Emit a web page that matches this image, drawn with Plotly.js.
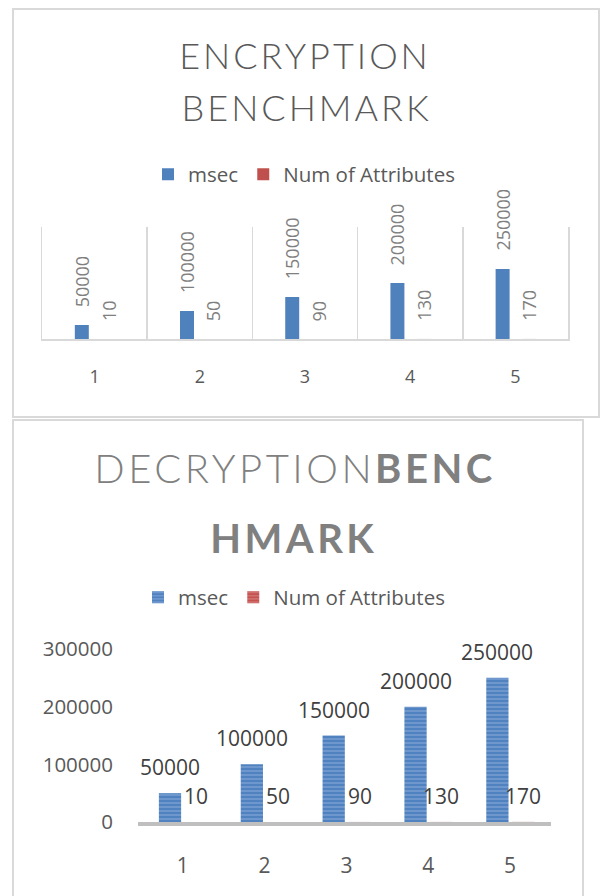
<!DOCTYPE html>
<html><head><meta charset="utf-8">
<script src="https://cdn.plot.ly/plotly-3.0.1.min.js"></script>
<style>
html,body{margin:0;padding:0;background:#fff;width:601px;height:896px;overflow:hidden;position:relative;}
.box{position:absolute;border:2px solid #d9d9d9;box-sizing:border-box;}
#boxA{left:12px;top:8px;width:588px;height:410px;}
#boxB{left:12px;top:419px;width:572px;height:520px;}
#chartA{position:absolute;left:0;top:0;width:601px;height:418px;}
#chartB{position:absolute;left:0;top:418px;width:601px;height:478px;}
#chartA .gtitle, #chartA .annotation[data-index="0"] text{letter-spacing:3px;}
#chartB .gtitle, #chartB .annotation[data-index="0"] text{letter-spacing:3.5px;}
</style></head>
<body>
<div class="box" id="boxA"></div>
<div class="box" id="boxB"></div>
<div id="chartA"></div>
<div id="chartB"></div>
<script>
// ---- data ----
var categories = ['1', '2', '3', '4', '5'];
var seriesNames = ['msec', 'Num of Attributes'];
var encMsec = [50000, 100000, 150000, 200000, 250000];
var encNum = [10, 50, 90, 130, 170];
var decMsec = [50000, 100000, 150000, 200000, 250000];
var decNum = [10, 50, 90, 130, 170];
var decYTicks = [0, 100000, 200000, 300000];
var encTitle = ['ENCRYPTION', 'BENCHMARK'];
var decTitle = ['DECRYPTION<b>BENC</b>', '<b>HMARK</b>'];

var FONT = 'Open Sans, Liberation Sans, sans-serif';
var TFONT = 'Lato, Open Sans, sans-serif';

// ---- chart A: encryption ----
var wA = 0.133, offA = [-0.188, 0.0665];
var mA = {l: 42, r: 33, t: 227, b: 79};
var hA = 418, wPxA = 601;
var plotHA = hA - mA.t - mA.b, plotWA = wPxA - mA.l - mA.r;

var tracesA = [
  {type: 'bar', x: categories, y: encMsec, name: seriesNames[0], width: wA, offset: offA[0],
   marker: {color: '#4f81bd'}, hoverinfo: 'skip'},
  {type: 'bar', x: categories, y: encNum, name: seriesNames[1], width: wA, offset: offA[1],
   marker: {color: '#c0504d'}, hoverinfo: 'skip'}
];
var annA = [{
  xref: 'paper', yref: 'paper', x: (306.5 - mA.l) / plotWA, y: (hA - mA.b - 106.5) / plotHA,
  xanchor: 'center', yanchor: 'middle', showarrow: false, text: encTitle[1],
  font: {family: TFONT, size: 36, color: '#595959', weight: 300}
}];
[encMsec, encNum].forEach(function (arr, s) {
  arr.forEach(function (v, i) {
    annA.push({x: i + offA[s] + wA / 2, y: v, xref: 'x', yref: 'y', text: String(v),
      textangle: -90, showarrow: false, xanchor: 'center', yanchor: 'bottom', yshift: 16,
      font: {family: FONT, size: 18, color: '#7f7f7f'}});
  });
});
var layoutA = {
  width: wPxA, height: hA, margin: mA,
  paper_bgcolor: 'rgba(0,0,0,0)', plot_bgcolor: 'rgba(0,0,0,0)',
  title: {text: encTitle[0], x: 305 / wPxA, xanchor: 'center', xref: 'container',
    y: 1 - 56 / hA, yanchor: 'middle', yref: 'container',
    font: {family: TFONT, size: 36, color: '#595959', weight: 300}},
  barmode: 'group',
  showlegend: true,
  legend: {orientation: 'h', xref: 'container', yref: 'container', x: 148 / wPxA, xanchor: 'left',
    y: 1 - 174.5 / hA, yanchor: 'middle', font: {family: FONT, size: 20.5, color: '#595959'},
    bgcolor: 'rgba(0,0,0,0)', traceorder: 'normal'},
  xaxis: {type: 'category', tickson: 'boundaries', showgrid: true, gridcolor: '#d9d9d9', gridwidth: 1.5,
    showline: true, linecolor: '#d9d9d9', linewidth: 2, ticks: '', ticklabelstandoff: 20,
    tickfont: {family: FONT, size: 18, color: '#595959'}, fixedrange: true},
  yaxis: {range: [0, 400000], showticklabels: false, showgrid: false, zeroline: false,
    showline: true, mirror: true, linecolor: '#d9d9d9', linewidth: 1.5, ticks: '', fixedrange: true},
  annotations: annA
};
Plotly.newPlot('chartA', tracesA, layoutA, {staticPlot: true, displayModeBar: false});

// ---- chart B: decryption ----
var wB = 0.272, offB = [-0.291, 0.025];
var mB = {l: 138, r: 50, t: 231, b: 74};
var hB = 478, wPxB = 601;
var plotHB = hB - mB.t - mB.b, plotWB = wPxB - mB.l - mB.r;
var tracesB = [
  {type: 'bar', x: categories, y: decMsec, name: seriesNames[0], width: wB, offset: offB[0],
   marker: {color: '#4f81bd', pattern: {shape: '-', fgcolor: '#82a5d6', bgcolor: '#5082c0', size: 4, solidity: 0.3}},
   hoverinfo: 'skip'},
  {type: 'bar', x: categories, y: decNum, name: seriesNames[1], width: wB, offset: offB[1],
   marker: {color: '#c0504d', pattern: {shape: '-', fgcolor: '#d98583', bgcolor: '#c4524f', size: 4, solidity: 0.3}},
   hoverinfo: 'skip'}
];
var annB = [{
  xref: 'paper', yref: 'paper', x: (294 - mB.l) / plotWB, y: (hB - mB.b - 119.5) / plotHB,
  xanchor: 'center', yanchor: 'middle', showarrow: false, text: decTitle[1],
  font: {family: TFONT, size: 40, color: '#808080', weight: 300}
}];
[decMsec, decNum].forEach(function (arr, s) {
  arr.forEach(function (v, i) {
    annB.push({x: i + offB[s] + wB / 2, y: v, xref: 'x', yref: 'y', text: String(v),
      showarrow: false, xanchor: 'center', yanchor: 'bottom', yshift: 10,
      font: {family: FONT, size: 21, color: '#404040'}});
  });
});
var layoutB = {
  width: wPxB, height: hB, margin: mB,
  paper_bgcolor: 'rgba(0,0,0,0)', plot_bgcolor: 'rgba(0,0,0,0)',
  title: {text: decTitle[0], x: 295 / wPxB, xanchor: 'center', xref: 'container',
    y: 1 - 50.5 / hB, yanchor: 'middle', yref: 'container',
    font: {family: TFONT, size: 40, color: '#808080', weight: 300}},
  barmode: 'group',
  showlegend: true,
  legend: {orientation: 'h', xref: 'container', yref: 'container', x: 138 / wPxB, xanchor: 'left',
    y: 1 - 179.5 / hB, yanchor: 'middle', font: {family: FONT, size: 20.5, color: '#595959'},
    bgcolor: 'rgba(0,0,0,0)', traceorder: 'normal'},
  xaxis: {type: 'category', showgrid: false, showline: true, linecolor: '#bfbfbf', linewidth: 4,
    ticks: '', ticklabelstandoff: 22, tickfont: {family: FONT, size: 21, color: '#595959'}, fixedrange: true},
  yaxis: {range: [0, 300000], tickvals: decYTicks, tickformat: 'd', showgrid: false, zeroline: false,
    showline: false, ticks: '', ticklabelstandoff: 24,
    tickfont: {family: FONT, size: 20.5, color: '#595959'}, fixedrange: true},
  annotations: annB
};
Plotly.newPlot('chartB', tracesB, layoutB, {staticPlot: true, displayModeBar: false});
</script>
</body></html>
